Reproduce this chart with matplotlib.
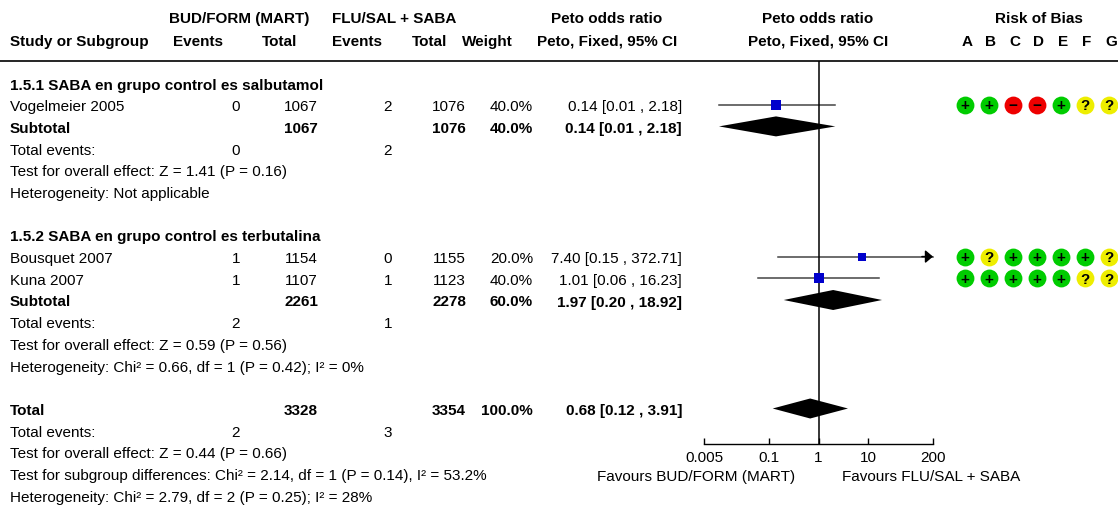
import numpy as np
import matplotlib.pyplot as plt

plt.rcParams['font.family'] = ['Liberation Sans', 'DejaVu Sans']
plt.rcParams['font.size'] = 11

# ---- data ----
group_titles = ["1.5.1 SABA en grupo control es salbutamol",
                "1.5.2 SABA en grupo control es terbutalina"]
study_names = [["Vogelmeier 2005"], ["Bousquet 2007", "Kuna 2007"]]
events_mart = [[0], [1, 1]]
total_mart = [[1067], [1154, 1107]]
events_ctrl = [[2], [0, 1]]
total_ctrl = [[1076], [1155, 1123]]
weights = [[40.0], [20.0, 40.0]]
or_est = [[0.14], [7.40, 1.01]]
or_low = [[0.01], [0.15, 0.06]]
or_high = [[2.18], [372.71, 16.23]]
risk_of_bias = [[["+", "+", "-", "-", "+", "?", "?"]],
                [["+", "?", "+", "+", "+", "+", "?"],
                 ["+", "+", "+", "+", "+", "?", "?"]]]

sub_events_mart = [0, 2]
sub_events_ctrl = [2, 1]
sub_total_mart = [1067, 2261]
sub_total_ctrl = [1076, 2278]
sub_weight = [40.0, 60.0]
sub_or = [0.14, 1.97]
sub_low = [0.01, 0.20]
sub_high = [2.18, 18.92]
sub_effect_test = ["Test for overall effect: Z = 1.41 (P = 0.16)",
                   "Test for overall effect: Z = 0.59 (P = 0.56)"]
sub_heterogeneity = ["Heterogeneity: Not applicable",
                     "Heterogeneity: Chi² = 0.66, df = 1 (P = 0.42); I² = 0%"]

total_mart_all = 3328
total_ctrl_all = 3354
total_weight = 100.0
total_or, total_low, total_high = 0.68, 0.12, 3.91
total_events_mart, total_events_ctrl = 2, 3
total_notes = ["Test for overall effect: Z = 0.44 (P = 0.66)",
               "Test for subgroup differences: Chi² = 2.14, df = 1 (P = 0.14), I² = 53.2%",
               "Heterogeneity: Chi² = 2.79, df = 2 (P = 0.25); I² = 28%"]

axis_ticks = [0.005, 0.1, 1, 10, 200]
axis_ticklabels = ["0.005", "0.1", "1", "10", "200"]
rob_letters = ["A", "B", "C", "D", "E", "F", "G"]
rob_colors = {"+": "#00cc00", "-": "#ee0000", "?": "#eeee00"}
rob_glyph = {"+": "+", "-": "\u2212", "?": "?"}

# ---- layout (pixels) ----
W, H = 1118, 506
x_study = 10
x_ev1, x_tot1, x_ev2, x_tot2, x_wt, x_ci = 240, 318, 392, 466, 533, 682
x_rob = [965 + 24 * i for i in range(7)]
row0, pitch = 84, 21.7
line_y = 62
axis_y = 445

fig = plt.figure(figsize=(W / 100, H / 100), dpi=100)
ax = fig.add_axes([0, 0, 1, 1])
ax.set_xlim(0, W)
ax.set_ylim(H, 0)
ax.axis("off")

fx = fig.add_axes([704 / W, 0, 229 / W, 1])
fx.set_xscale("log")
fx.set_xlim(axis_ticks[0], axis_ticks[-1])
fx.set_ylim(H, 0)
fx.patch.set_visible(False)
for s in ["top", "left", "right"]:
    fx.spines[s].set_visible(False)
fx.spines["bottom"].set_position(("data", axis_y))
fx.spines["bottom"].set_linewidth(1.0)
fx.set_yticks([])
fx.set_xticks(axis_ticks)
fx.set_xticklabels(axis_ticklabels, fontsize=11)
fx.minorticks_off()
fx.tick_params(axis="x", direction="in", length=4, width=1, pad=4)


def txt(x, y, s, ha="left", bold=False, size=11):
    ax.text(x, y + 5.5, s, ha=ha, va="baseline", fontsize=size,
            fontweight="bold" if bold else "normal", color="black")


def diamond(y, est, lo, hi):
    fx.fill([lo, est, hi, est], [y, y - 10, y, y + 10], color="black", lw=0)


# header
hy1, hy2 = 17, 40
txt(239, hy1, "BUD/FORM (MART)", ha="center", bold=True)
txt(394, hy1, "FLU/SAL + SABA", ha="center", bold=True)
txt(607, hy1, "Peto odds ratio", ha="center", bold=True)
txt(818, hy1, "Peto odds ratio", ha="center", bold=True)
txt(1039, hy1, "Risk of Bias", ha="center", bold=True)
txt(x_study, hy2, "Study or Subgroup", bold=True)
txt(198, hy2, "Events", ha="center", bold=True)
txt(280, hy2, "Total", ha="center", bold=True)
txt(357, hy2, "Events", ha="center", bold=True)
txt(430, hy2, "Total", ha="center", bold=True)
txt(487, hy2, "Weight", ha="center", bold=True)
txt(607, hy2, "Peto, Fixed, 95% CI", ha="center", bold=True)
txt(818, hy2, "Peto, Fixed, 95% CI", ha="center", bold=True)
for xr, letter in zip(x_rob, rob_letters):
    txt(xr + 2, hy2, letter, ha="center", bold=True)
ax.plot([0, W], [line_y, line_y], color="black", lw=1.2)

row = 0
for g in range(len(group_titles)):
    y = row0 + row * pitch
    txt(x_study, y, group_titles[g], bold=True)
    row += 1
    for k in range(len(study_names[g])):
        y = row0 + row * pitch
        txt(x_study, y, study_names[g][k])
        txt(x_ev1, y, str(events_mart[g][k]), ha="right")
        txt(x_tot1, y, str(total_mart[g][k]), ha="right")
        txt(x_ev2, y, str(events_ctrl[g][k]), ha="right")
        txt(x_tot2, y, str(total_ctrl[g][k]), ha="right")
        txt(x_wt, y, f"{weights[g][k]:.1f}%", ha="right")
        txt(x_ci, y, f"{or_est[g][k]:.2f} [{or_low[g][k]:.2f} , {or_high[g][k]:.2f}]", ha="right")
        hi = min(or_high[g][k], axis_ticks[-1])
        fx.plot([or_low[g][k], hi], [y, y], color="#444444", lw=1.1, clip_on=False)
        if or_high[g][k] > axis_ticks[-1]:
            fx.annotate("", xy=(hi, y), xytext=(-8, 0), textcoords="offset points",
                        arrowprops=dict(arrowstyle="-|>,head_length=0.45,head_width=0.38",
                                        color="black", lw=1.1, shrinkA=0, shrinkB=0,
                                        mutation_scale=10),
                        annotation_clip=False)
        size = 7.4 * np.sqrt(weights[g][k] / 40.0)
        fx.plot([or_est[g][k]], [y], marker="s", color="#0000cc", ms=size, mew=0, zorder=3)
        for xr, j in zip(x_rob, risk_of_bias[g][k]):
            ax.scatter([xr], [y], s=165, color=rob_colors[j], lw=0, zorder=3)
            ax.text(xr, y + 0.5, rob_glyph[j], ha="center", va="center",
                    fontsize=11, fontweight="bold", zorder=4)
        row += 1
    y = row0 + row * pitch
    txt(x_study, y, "Subtotal", bold=True)
    txt(x_tot1, y, str(sub_total_mart[g]), ha="right", bold=True)
    txt(x_tot2, y, str(sub_total_ctrl[g]), ha="right", bold=True)
    txt(x_wt, y, f"{sub_weight[g]:.1f}%", ha="right", bold=True)
    txt(x_ci, y, f"{sub_or[g]:.2f} [{sub_low[g]:.2f} , {sub_high[g]:.2f}]", ha="right", bold=True)
    diamond(y, sub_or[g], sub_low[g], sub_high[g])
    row += 1
    y = row0 + row * pitch
    txt(x_study, y, "Total events:")
    txt(x_ev1, y, str(sub_events_mart[g]), ha="right")
    txt(x_ev2, y, str(sub_events_ctrl[g]), ha="right")
    row += 1
    txt(x_study, row0 + row * pitch, sub_effect_test[g])
    row += 1
    txt(x_study, row0 + row * pitch, sub_heterogeneity[g])
    row += 2

y = row0 + row * pitch
txt(x_study, y, "Total", bold=True)
txt(x_tot1, y, str(total_mart_all), ha="right", bold=True)
txt(x_tot2, y, str(total_ctrl_all), ha="right", bold=True)
txt(x_wt, y, f"{total_weight:.1f}%", ha="right", bold=True)
txt(x_ci, y, f"{total_or:.2f} [{total_low:.2f} , {total_high:.2f}]", ha="right", bold=True)
diamond(y, total_or, total_low, total_high)
row += 1
y = row0 + row * pitch
txt(x_study, y, "Total events:")
txt(x_ev1, y, str(total_events_mart), ha="right")
txt(x_ev2, y, str(total_events_ctrl), ha="right")
row += 1
for note in total_notes:
    txt(x_study, row0 + row * pitch, note)
    row += 1

# reference line at OR = 1
fx.vlines(1, line_y, axis_y, color="black", lw=1.1)

txt(795, 476, "Favours BUD/FORM (MART)", ha="right")
txt(842, 476, "Favours FLU/SAL + SABA", ha="left")

fig.savefig("out.png", dpi=100)
